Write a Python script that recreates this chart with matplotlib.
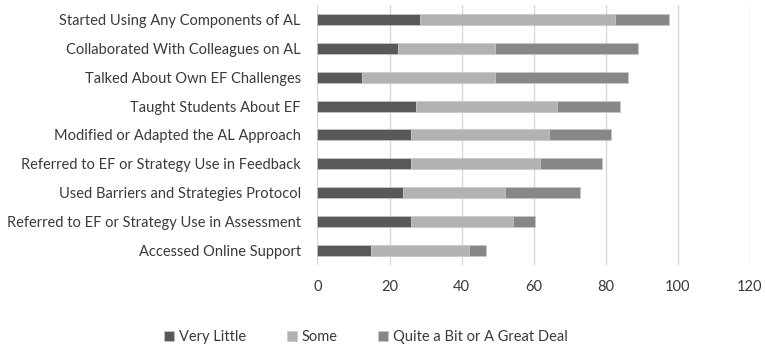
import matplotlib.pyplot as plt
import numpy as np

# Datos (de arriba hacia abajo)
categorias = [
    "Started Using Any Components of AL",
    "Collaborated With Colleagues on AL",
    "Talked About Own EF Challenges",
    "Taught Students About EF",
    "Modified or Adapted the AL Approach",
    "Referred to EF or Strategy Use in Feedback",
    "Used Barriers and Strategies Protocol",
    "Referred to EF or Strategy Use in Assessment",
    "Accessed Online Support",
]
very_little = [28.5, 22.3, 12.3, 27.3, 26.0, 26.0, 23.7, 26.0, 14.8]
some = [54.2, 27.1, 37.1, 39.3, 38.2, 35.9, 28.3, 28.4, 27.3]
great_deal = [14.8, 39.5, 36.9, 17.4, 17.2, 17.2, 20.9, 6.1, 4.7]
series_names = ["Very Little", "Some", "Quite a Bit or A Great Deal"]
colores = ["#595959", "#b2b2b2", "#878787"]

plt.rcParams['font.family'] = ['Lato', 'DejaVu Sans']

fig = plt.figure(figsize=(7.65, 3.47), dpi=100)
ax = fig.add_axes([0.415, 0.236, 0.565, 0.750])

y = np.arange(len(categorias))
left = np.zeros(len(categorias))
for vals, nombre, color in zip([very_little, some, great_deal], series_names, colores):
    ax.barh(y, vals, left=left, height=0.38, color=color, label=nombre,
            edgecolor="#c8c8c8", linewidth=0.5, zorder=3)
    left += np.array(vals)

ax.set_yticks(y)
ax.set_yticklabels(categorias, fontsize=10.5, color="#3a3a3a")
ax.set_ylim(len(categorias) - 0.5, -0.5)
ax.set_xlim(0, 120)
ax.set_xticks(range(0, 121, 20))
ax.tick_params(axis='x', labelsize=10.5, colors="#3a3a3a", length=0, pad=11)
ax.tick_params(axis='y', length=0, pad=12)
ax.grid(axis='x', color="#d9d9d9", linewidth=1, zorder=0)
for s in ax.spines.values():
    s.set_visible(False)

fig.legend(loc='center', bbox_to_anchor=(0.478, 1 - 337 / 347), ncol=3,
           frameon=False, fontsize=10.5, handlelength=0.7, handleheight=0.7,
           handletextpad=0.3, columnspacing=2.8, labelcolor="#3a3a3a")

plt.savefig("out.png", dpi=100)
